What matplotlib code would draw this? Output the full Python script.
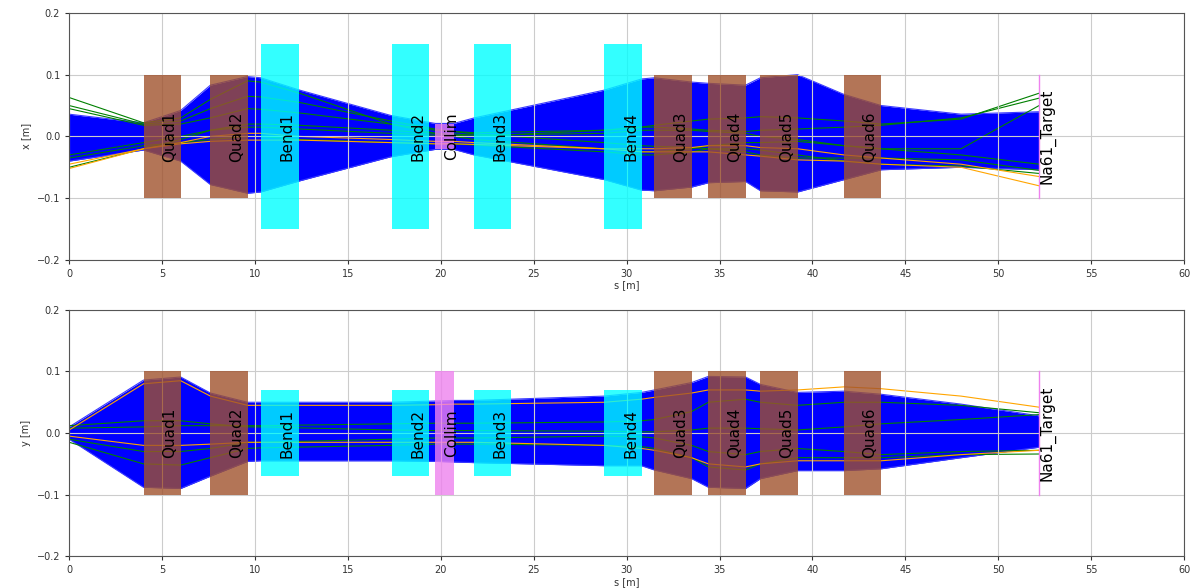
import numpy as np
import matplotlib
matplotlib.use("Agg")
import matplotlib.pyplot as plt
from matplotlib.patches import Rectangle

#%% beamline elements: name, start s, end s, kind
elem_names = ["Quad1", "Quad2", "Bend1", "Bend2", "Collim", "Bend3", "Bend4",
              "Quad3", "Quad4", "Quad5", "Quad6", "Na61_Target"]
elem_start = [4.0, 7.6, 10.3, 17.35, 19.7, 21.8, 28.8, 31.5, 34.4, 37.2, 41.7, 52.2]
elem_end = [6.0, 9.6, 12.35, 19.35, 20.7, 23.8, 30.85, 33.5, 36.4, 39.2, 43.7, 52.2]
elem_kind = ["quad", "quad", "bend", "bend", "coll", "bend", "bend",
             "quad", "quad", "quad", "quad", "target"]

# half apertures per plane
aper_x = {"quad": 0.1, "bend": 0.15, "coll": 0.02, "target": 0.1}
aper_y = {"quad": 0.1, "bend": 0.07, "coll": 0.1, "target": 0.1}

#%% horizontal plane: beam envelope and a few single tracks
s_x = [0, 4, 6, 7.6, 9.6, 10.3, 12.4, 17.3, 19.7, 20.7, 21.8, 28.8, 30.8,
       31.5, 33.5, 34.4, 36.4, 37.2, 39.2, 41.7, 43.7, 48, 52.2]
x_upper = [0.036, 0.022, 0.042, 0.083, 0.097, 0.095, 0.075, 0.034, 0.021, 0.021,
           0.03, 0.075, 0.093, 0.095, 0.088, 0.086, 0.083, 0.095, 0.1, 0.068,
           0.05, 0.036, 0.04]
x_lower = [-0.04, -0.022, -0.04, -0.078, -0.092, -0.09, -0.072, -0.033, -0.021,
           -0.021, -0.03, -0.07, -0.087, -0.088, -0.082, -0.075, -0.073, -0.088,
           -0.09, -0.07, -0.054, -0.05, -0.054]

green_x = [
    [0.063, 0.022, 0.03, 0.06, 0.09, 0.088, 0.07, 0.02, 0.005, 0.0, -0.005, -0.02,
     -0.025, -0.025, -0.02, -0.015, -0.01, -0.01, -0.008, -0.015, -0.02, -0.03, -0.045],
    [0.05, 0.02, 0.025, 0.045, 0.065, 0.064, 0.055, 0.025, 0.012, 0.008, 0.004, -0.01,
     -0.015, -0.016, -0.018, -0.02, -0.025, -0.03, -0.035, -0.035, -0.035, -0.038, -0.055],
    [0.045, 0.018, 0.02, 0.03, 0.045, 0.044, 0.038, 0.02, 0.01, 0.008, 0.006, 0.01,
     0.015, 0.018, 0.025, 0.028, 0.03, 0.032, 0.03, 0.025, 0.02, 0.028, 0.07],
    [-0.05, -0.02, -0.005, 0.01, 0.015, 0.015, 0.012, 0.005, 0.002, 0.002, 0.0, 0.01,
     0.015, 0.015, 0.012, 0.01, 0.008, 0.01, 0.012, 0.015, 0.018, 0.03, 0.062],
    [-0.035, -0.015, -0.01, -0.005, 0.0, 0.0, -0.005, -0.01, -0.012, -0.012, -0.014, -0.025,
     -0.03, -0.03, -0.025, -0.02, -0.02, -0.022, -0.03, -0.04, -0.045, -0.048, -0.06],
    [-0.03, -0.01, 0.0, 0.01, 0.02, 0.02, 0.018, 0.01, 0.005, 0.004, 0.002, 0.005,
     0.01, 0.01, 0.01, 0.008, 0.005, 0.0, -0.005, -0.015, -0.02, -0.02, 0.05],
]
orange_x = [
    [-0.052, -0.02, -0.01, 0.0, 0.005, 0.005, 0.0, -0.005, -0.008, -0.008, -0.01, -0.02,
     -0.025, -0.025, -0.025, -0.025, -0.03, -0.032, -0.038, -0.04, -0.045, -0.05, -0.08],
    [-0.045, -0.02, -0.012, -0.008, -0.006, -0.006, -0.006, -0.01, -0.012, -0.012, -0.013,
     -0.02, -0.02, -0.02, -0.018, -0.015, -0.015, -0.018, -0.02, -0.03, -0.035, -0.045, -0.065],
]

#%% vertical plane
s_y = [0, 4, 6, 7.6, 9.6, 10.3, 17.3, 19.7, 20.7, 21.8, 28.8, 30.8, 31.5, 33.5,
       34.4, 36.4, 37.2, 39.2, 41.7, 43.7, 48, 52.2]
y_upper = [0.01, 0.086, 0.091, 0.065, 0.05, 0.05, 0.05, 0.052, 0.053, 0.053, 0.06,
           0.066, 0.07, 0.082, 0.092, 0.091, 0.079, 0.066, 0.068, 0.063, 0.047, 0.028]
y_lower = [-0.01, -0.088, -0.09, -0.07, -0.046, -0.045, -0.045, -0.046, -0.047, -0.048,
           -0.053, -0.053, -0.06, -0.074, -0.088, -0.09, -0.074, -0.061, -0.061, -0.058,
           -0.04, -0.023]

green_y = [
    [0.012, 0.02, 0.02, 0.015, 0.01, 0.01, 0.005, 0.004, 0.004, 0.004, 0.003, 0.002,
     0.002, 0.005, 0.008, 0.008, 0.007, 0.005, 0.01, 0.015, 0.022, 0.03],
    [-0.015, -0.05, -0.052, -0.04, -0.025, -0.024, -0.02, -0.018, -0.018, -0.018, -0.02,
     -0.022, -0.025, -0.04, -0.055, -0.06, -0.05, -0.04, -0.04, -0.04, -0.035, -0.034],
    [0.008, 0.01, 0.012, 0.012, 0.012, 0.012, 0.015, 0.016, 0.016, 0.016, 0.018, 0.02,
     0.022, 0.035, 0.05, 0.055, 0.05, 0.045, 0.05, 0.05, 0.045, 0.033],
    [-0.01, -0.03, -0.03, -0.025, -0.015, -0.015, -0.01, -0.008, -0.008, -0.008, -0.005,
     -0.006, -0.008, -0.02, -0.03, -0.035, -0.03, -0.025, -0.03, -0.035, -0.03, -0.028],
]
orange_y = [
    [0.005, 0.08, 0.085, 0.06, 0.045, 0.045, 0.045, 0.046, 0.047, 0.047, 0.05, 0.055,
     0.058, 0.065, 0.07, 0.07, 0.068, 0.07, 0.075, 0.072, 0.06, 0.042],
    [-0.005, -0.02, -0.02, -0.018, -0.015, -0.015, -0.015, -0.015, -0.015, -0.015, -0.02,
     -0.025, -0.028, -0.04, -0.05, -0.055, -0.05, -0.045, -0.045, -0.045, -0.035, -0.028],
]

kind_color = {"quad": "sienna", "bend": "cyan", "coll": "violet", "target": "violet"}


def draw_plane(ax, s, upper, lower, greens, oranges, aper, label):
    # dense bundle of tracks
    ax.fill_between(s, lower, upper, color="blue", lw=0, zorder=1.5)
    ax.plot(s, upper, color="#3a3aff", lw=0.8, zorder=1.5)
    ax.plot(s, lower, color="#3a3aff", lw=0.8, zorder=1.5)
    for tr in greens:
        ax.plot(s, tr, color="green", lw=0.8, zorder=2)
    for tr in oranges:
        ax.plot(s, tr, color="orange", lw=0.8, zorder=2)

    for name, s0, s1, kind in zip(elem_names, elem_start, elem_end, elem_kind):
        h = aper[kind]
        if kind == "target":
            ax.plot([s0, s0], [-h, h], color=kind_color[kind], lw=1, zorder=4)
        else:
            ax.add_patch(Rectangle((s0, -h), s1 - s0, 2 * h, facecolor=kind_color[kind],
                                   edgecolor="none", alpha=0.8, zorder=4))
        ax.text((s0 + s1) / 2, 0, name, rotation=90, ha="left", va="center",
                fontsize=11, zorder=5)

    ax.set_xlim(0, 60)
    ax.set_ylim(-0.2, 0.2)
    ax.set_xticks(np.arange(0, 61, 5))
    ax.set_yticks([-0.2, -0.1, 0.0, 0.1, 0.2])
    # grid sits above the tracks but below the elements
    ax.set_axisbelow(False)
    ax.grid(True, color="#cccccc", lw=0.8)
    ax.tick_params(labelsize=7, colors="#333333", length=3)
    for sp in ax.spines.values():
        sp.set_color("#555555")
        sp.set_zorder(6)
    ax.set_xlabel("s [m]", fontsize=7, labelpad=1, color="#333333")
    ax.set_ylabel(label, fontsize=7, color="#333333")


fig = plt.figure(figsize=(11.93, 5.88), dpi=100)
ax1 = fig.add_axes([0.058, 0.558, 0.9345, 0.42])
ax2 = fig.add_axes([0.058, 0.054, 0.9345, 0.419])

draw_plane(ax1, s_x, x_upper, x_lower, green_x, orange_x, aper_x, "x [m]")
draw_plane(ax2, s_y, y_upper, y_lower, green_y, orange_y, aper_y, "y [m]")

fig.savefig("out.png", dpi=100)
